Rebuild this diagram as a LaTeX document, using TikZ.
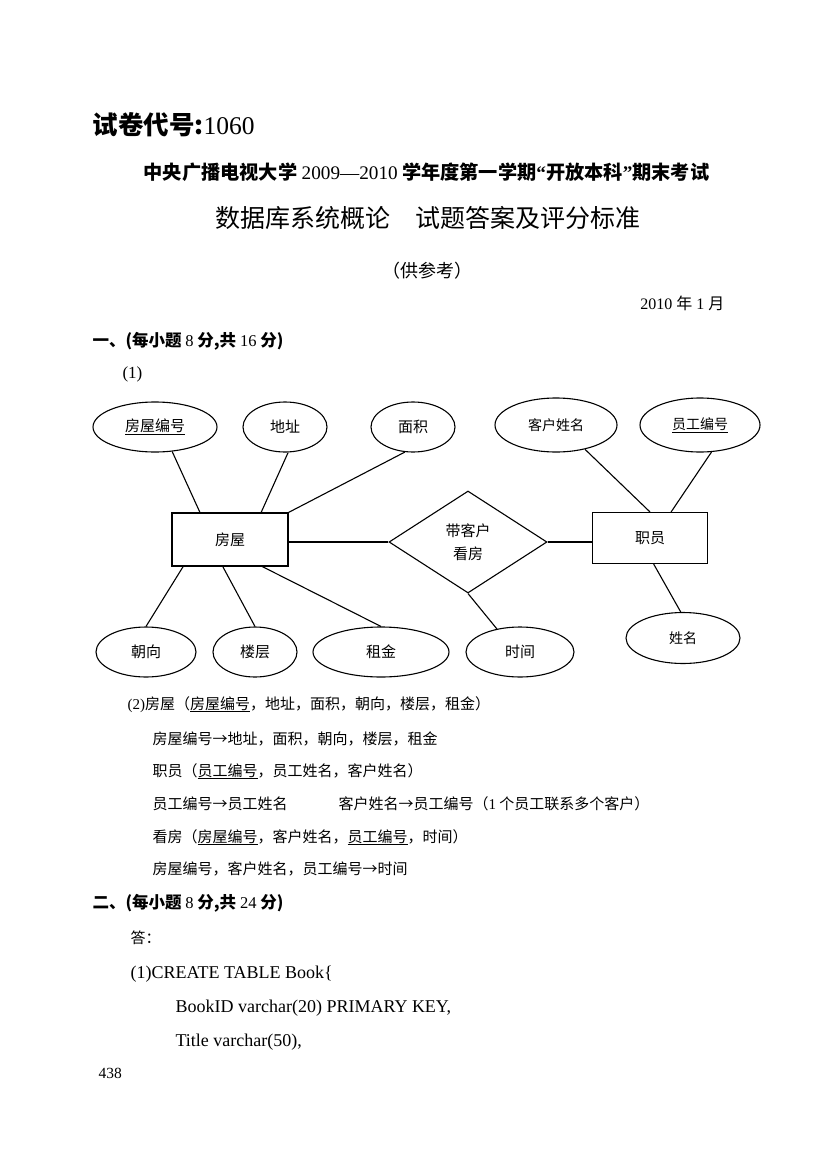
\documentclass[tikz,border=0pt]{standalone}
\usepackage{fontspec}
\setmainfont{Liberation Serif}
\newfontfamily\cjk{Noto Sans CJK SC}
\usetikzlibrary{shapes.geometric}

\newcommand\fsz[1]{\fontsize{#1}{#1}\selectfont}

\begin{document}
\begin{tikzpicture}[x=1pt, y=-1pt, line width=1.1pt,
  attr/.style={draw, ellipse, inner sep=0pt, font=\cjk\fsz{15}},
  ent/.style={draw, rectangle, inner sep=0pt, font=\cjk\fsz{15}},
  rel/.style={draw, diamond, inner sep=0pt, align=center, font=\cjk\fontsize{15}{23}\selectfont},
  txt/.style={anchor=base west, inner sep=0pt}]
  \fill[white] (0,0) rectangle (820,1156);
  \useasboundingbox (0,0) rectangle (820,1156);

  % header
  \node[txt, font=\fsz{25.5}] (code) at (92,134) {{\cjk\bfseries 试卷代号:}1060};
  \node[anchor=base, inner sep=0pt, font=\cjk\bfseries\fsz{19.2}] (title) at (426.5,179)
    {中央广播电视大学 {\rmfamily\mdseries 2009—2010} 学年度第一学期{\rmfamily “}开放本科{\rmfamily ”}期末考试};
  \node[anchor=base, inner sep=0pt, font=\cjk\fsz{25}] (subj) at (427.5,227) {数据库系统概论　试题答案及评分标准};
  \node[anchor=base, inner sep=0pt, font=\cjk\fsz{18}] (note) at (427,277) {（供参考）};
  \node[anchor=base east, inner sep=0pt, font=\fsz{16}] (date) at (725,309) {2010 {\cjk 年} 1 {\cjk 月}};
  \node[txt, font=\cjk\bfseries\fsz{16.5}] (sec1) at (92,346) {一、(每小题 {\rmfamily\mdseries 8} 分,共 {\rmfamily\mdseries 16} 分)};
  \node[txt, font=\fsz{17}] (q1) at (122,378) {(1)};

  % E-R diagram
  \node[attr, minimum width=124pt, minimum height=50pt] (fwbh) at (155,427) {\underline{房屋编号}};
  \node[attr, minimum width=84pt, minimum height=50pt] (dz) at (285,427) {地址};
  \node[attr, minimum width=84pt, minimum height=50pt] (mj) at (413,427) {面积};
  \node[attr, minimum width=122pt, minimum height=54pt, font=\cjk\fsz{14}] (khxm) at (556,425) {客户姓名};
  \node[attr, minimum width=120pt, minimum height=54pt, font=\cjk\fsz{14}] (ygbh) at (700,425) {\underline{员工编号}};
  \node[ent, minimum width=116pt, minimum height=53pt] (fw) at (230,539.5) {房屋};
  \node[rel, minimum width=158pt, minimum height=102pt] (dkf) at (468,542) {带客户\\看房};
  \node[ent, minimum width=115pt, minimum height=51pt] (zy) at (650,538) {职员};
  \node[attr, minimum width=100pt, minimum height=50pt] (cx) at (146,652) {朝向};
  \node[attr, minimum width=84pt, minimum height=50pt] (lc) at (255,652) {楼层};
  \node[attr, minimum width=136pt, minimum height=50pt] (zj) at (381,652) {租金};
  \node[attr, minimum width=108pt, minimum height=50pt] (sj) at (520,652) {时间};
  \node[attr, minimum width=114pt, minimum height=51pt, font=\cjk\fsz{14}] (xm) at (683,638) {姓名};

  \draw (fwbh.-55) -- (fw.138);
  \draw (dz.-83) -- (fw.41.5);
  \draw (mj.-108) -- (fw.north east);
  \draw (khxm.-40) -- (zy.north);
  \draw (ygbh.-67) -- (zy.51);
  \draw (fw.east |- dkf.west) -- (dkf.west);
  \draw (dkf.east) -- (dkf.east -| zy.west);
  \draw (fw.-150) -- (cx.north);
  \draw (fw.-105) -- (lc.north);
  \draw (fw.-40) -- (zj.north);
  \draw (dkf.south) -- (sj.135);
  \draw (zy.-82) -- (xm.95);

  % relations
  \node[txt, font=\cjk\fsz{15}] (r1) at (127,709) {{\rmfamily (2)}房屋（\underline{房屋编号}，地址，面积，朝向，楼层，租金）};
  \node[txt, font=\cjk\fsz{15}] (r2) at (152,744) {房屋编号→地址，面积，朝向，楼层，租金};
  \node[txt, font=\cjk\fsz{15}] (r3) at (152,776) {职员（\underline{员工编号}，员工姓名，客户姓名）};
  \node[txt, font=\cjk\fsz{15}] (r4) at (152,809) {员工编号→员工姓名\hspace{51pt}客户姓名→员工编号（{\rmfamily 1} 个员工联系多个客户）};
  \node[txt, font=\cjk\fsz{15}] (r5) at (152,842) {看房（\underline{房屋编号}，客户姓名，\underline{员工编号}，时间）};
  \node[txt, font=\cjk\fsz{15}] (r6) at (152,874) {房屋编号，客户姓名，员工编号→时间};

  % part two
  \node[txt, font=\cjk\bfseries\fsz{16.5}] (sec2) at (92,908) {二、(每小题 {\rmfamily\mdseries 8} 分,共 {\rmfamily\mdseries 24} 分)};
  \node[txt, font=\cjk\fsz{15}] (ans) at (130,943) {答：};
  \node[txt, font=\fsz{18}] (c1) at (130,978) {(1)CREATE TABLE Book\{};
  \node[txt, font=\fsz{18}] (c2) at (175,1012) {BookID varchar(20) PRIMARY KEY,};
  \node[txt, font=\fsz{18}] (c3) at (175,1046) {Title varchar(50),};
  \node[txt, font=\fsz{15.5}] (pg) at (98,1078) {438};
\end{tikzpicture}
\end{document}
